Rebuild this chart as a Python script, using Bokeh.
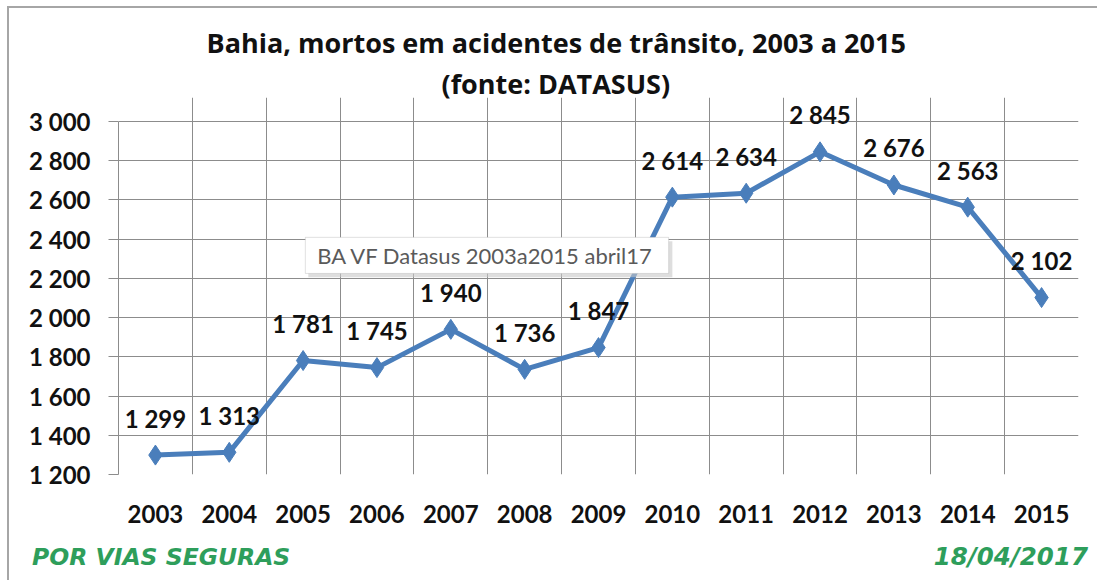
from bokeh.plotting import figure
from bokeh.models import (ColumnDataSource, FixedTicker, LabelSet, Label, Title,
                          BoxAnnotation, Div)
from bokeh.layouts import column
from bokeh.core.properties import value
from bokeh.embed import file_html
from bokeh.resources import INLINE

years = [2003, 2004, 2005, 2006, 2007, 2008, 2009, 2010, 2011, 2012, 2013, 2014, 2015]
deaths = [1299, 1313, 1781, 1745, 1940, 1736, 1847, 2614, 2634, 2845, 2676, 2563, 2102]
y_ticks = [1200, 1400, 1600, 1800, 2000, 2200, 2400, 2600, 2800, 3000]

def fmt(v):
    return f"{v:,}".replace(",", " ")

FONT = "Lato"
TFONT = "Open Sans"
BLUE = "#4a7ebb"
GRID = "#8c8c8c"
GREEN = "#2e9e5b"

src = ColumnDataSource(dict(x=years, y=deaths, lbl=[fmt(v) for v in deaths]))

x0, x1 = years[0] - 0.5, years[-1] + 0.5
Y_TOP_PAD = 122  # headroom above the top gridline so labels are not clipped

p = figure(width=1086, height=532, output_backend="svg", toolbar_location=None,
           x_range=(x0, x1), y_range=(y_ticks[0], y_ticks[-1] + Y_TOP_PAD),
           title="Bahia, mortos em acidentes de trânsito, 2003 a 2015",
           min_border_left=109, min_border_right=17, min_border_top=89, min_border_bottom=66)

p.title.text_font = TFONT
p.title.text_font_size = "27px"
p.title.text_font_style = "bold"
p.title.align = "left"
p.title.offset = 88
p.title.text_color = "#111111"
p.title.standoff = 13
p.add_layout(Title(text="(fonte: DATASUS)", align="left", offset=323,
                   text_font=TFONT, text_font_size="27px", text_font_style="bold",
                   text_color="#111111", standoff=-9), "above")

p.background_fill_color = "white"
p.border_fill_color = "white"
p.outline_line_color = None

# grids (bounded to the data area 1200..3000)
p.xgrid.ticker = FixedTicker(ticks=[y - 0.5 for y in years] + [x1])
p.xgrid.grid_line_color = GRID
p.xgrid.bounds = (y_ticks[0], y_ticks[-1])
p.ygrid.ticker = FixedTicker(ticks=y_ticks)
p.ygrid.grid_line_color = GRID

# x axis
p.xaxis.ticker = FixedTicker(ticks=years)
p.xaxis.major_label_overrides = {y: str(y) for y in years}
p.xaxis.axis_line_color = None
p.xaxis.major_tick_line_color = None
p.xaxis.minor_tick_line_color = None
p.xaxis.major_label_standoff = 24
p.xaxis.major_label_text_font = FONT
p.xaxis.major_label_text_font_size = "24px"
p.xaxis.major_label_text_font_style = "bold"
p.xaxis.major_label_text_color = "#111111"

# y axis
p.yaxis.ticker = FixedTicker(ticks=y_ticks)
p.yaxis.bounds = (y_ticks[0], y_ticks[-1])
p.yaxis.major_label_overrides = {t: fmt(t) for t in y_ticks}
p.yaxis.axis_line_color = GRID
p.yaxis.major_tick_line_color = GRID
p.yaxis.major_tick_out = 10
p.yaxis.major_tick_in = 0
p.yaxis.minor_tick_line_color = None
p.yaxis.major_label_standoff = 18
p.yaxis.major_label_text_font = FONT
p.yaxis.major_label_text_font_size = "24px"
p.yaxis.major_label_text_font_style = "bold"
p.yaxis.major_label_text_color = "#111111"

# series
p.line("x", "y", source=src, line_color=BLUE, line_width=5)
p.scatter("x", "y", source=src, marker="diamond", size=20, fill_color=BLUE, line_color=BLUE)

labels = LabelSet(x="x", y="y", text="lbl", source=src, y_offset=37,
                  text_align="center", text_baseline="middle",
                  text_font=value(FONT), text_font_size=value("24px"),
                  text_font_style=value("bold"), text_color="#111111")
p.add_layout(labels)

# tooltip-like box
p.add_layout(BoxAnnotation(left=2005.07, right=2010.0, bottom=2205, top=2389,
                           fill_color="#c8c8c8", fill_alpha=0.6, line_color=None))
p.add_layout(BoxAnnotation(left=2005.03, right=2009.95, bottom=2225, top=2409,
                           fill_color="white", fill_alpha=1, line_color="#9a9a9a", line_width=1))
p.add_layout(Label(x=2005.03, y=2317, x_offset=12, text="BA VF Datasus 2003a2015 abril17",
                   text_align="left", text_baseline="middle", text_font=FONT,
                   text_font_size="22px", text_color="#5a5a5a"))

footer = Div(
    text=('<div style="display:flex;justify-content:space-between;width:1074px;'
          'box-sizing:border-box;font-family:\'DejaVu Sans\';font-weight:bold;'
          'font-style:italic;font-size:23.5px;line-height:24px;'
          f'color:{GREEN};padding-left:18px;">'
          '<span>POR VIAS SEGURAS</span>'
          '<span style="font-size:24.5px;">18/04/2017</span></div>'),
    width=1086, height=30)

layout = column(p, footer, spacing=0,
                styles={"border-left": "2px solid #a6a6a6", "border-top": "2px solid #a6a6a6",
                        "margin-left": "7px", "margin-top": "6px"})

open("out.html", "w").write(file_html(layout, INLINE))
